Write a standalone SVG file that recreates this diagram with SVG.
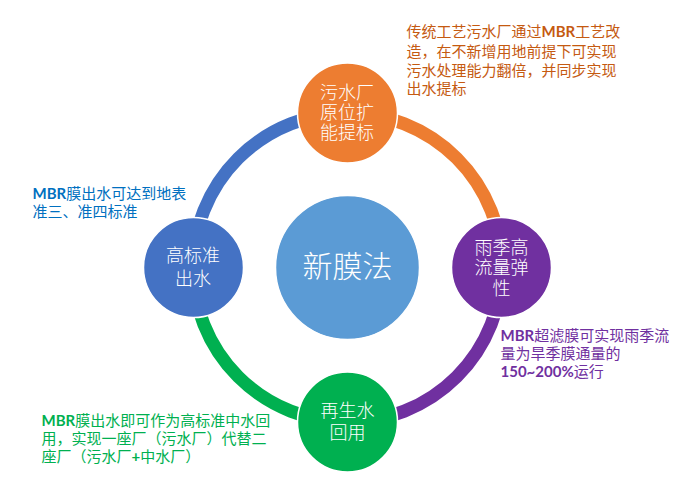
<svg xmlns="http://www.w3.org/2000/svg" width="676" height="483" viewBox="0 0 676 483">
<style>
.arc{fill:none;stroke-width:13}
.node{stroke:#ffffff;stroke-width:1.5}
.nt{font-family:"Noto Sans CJK SC",sans-serif;fill:#ffffff;font-size:18px;text-anchor:middle;font-weight:300}
.ann{font-family:"Lato","Noto Sans CJK SC",sans-serif;font-size:15px}
.b{font-weight:bold}
</style>
<rect width="676" height="483" fill="#ffffff"/>
<g id="connectors">
<path class="arc" stroke="#ED7D31" d="M 347.5 113 A 154.5 154.5 0 0 1 502 267.5"/>
<path class="arc" stroke="#7030A0" d="M 502 267.5 A 154.5 154.5 0 0 1 347.5 422"/>
<path class="arc" stroke="#00B050" d="M 347.5 422 A 154.5 154.5 0 0 1 193 267.5"/>
<path class="arc" stroke="#4472C4" d="M 193 267.5 A 154.5 154.5 0 0 1 347.5 113"/>
</g>
<g id="center">
<circle class="node" cx="347.5" cy="267.5" r="72" fill="#5B9BD5"/>
<text class="nt" x="347.5" y="277" style="font-size:30px">新膜法</text>
</g>
<g id="top">
<circle class="node" cx="347.5" cy="113" r="50" fill="#ED7D31"/>
<text class="nt" x="347" y="99">污水厂</text>
<text class="nt" x="347" y="119">原位扩</text>
<text class="nt" x="347" y="139">能提标</text>
</g>
<g id="right">
<circle class="node" cx="501.5" cy="267.5" r="50" fill="#7030A0"/>
<text class="nt" x="501.5" y="253.5">雨季高</text>
<text class="nt" x="501.5" y="274">流量弹</text>
<text class="nt" x="501.5" y="295">性</text>
</g>
<g id="bottom">
<circle class="node" cx="347.5" cy="422" r="50" fill="#00B050"/>
<text class="nt" x="347.5" y="417">再生水</text>
<text class="nt" x="347.5" y="438.5">回用</text>
</g>
<g id="left">
<circle class="node" cx="193.5" cy="267.5" r="50" fill="#4472C4"/>
<text class="nt" x="193" y="262">高标准</text>
<text class="nt" x="193" y="285">出水</text>
</g>
<g id="note-top" class="ann" fill="#C55A11">
<text x="406.5" y="37"><tspan>传统工艺污水厂通过</tspan><tspan class="b">MBR</tspan><tspan>工艺改</tspan></text>
<text x="406.5" y="56.5">造，在不新增用地前提下可实现</text>
<text x="406.5" y="75.5">污水处理能力翻倍，并同步实现</text>
<text x="406.5" y="94">出水提标</text>
</g>
<g id="note-left" class="ann" fill="#0070C0">
<text x="32.5" y="198.5"><tspan class="b">MBR</tspan><tspan>膜出水可达到地表</tspan></text>
<text x="32.5" y="217">准三、准四标准</text>
</g>
<g id="note-right" class="ann" fill="#7030A0">
<text x="500.5" y="340.5"><tspan class="b">MBR</tspan><tspan>超滤膜可实现雨季流</tspan></text>
<text x="500.5" y="359">量为旱季膜通量的</text>
<text x="500.5" y="377"><tspan class="b">150~200%</tspan><tspan>运行</tspan></text>
</g>
<g id="note-bottom" class="ann" fill="#00B050">
<text x="41.5" y="425.5"><tspan class="b">MBR</tspan><tspan>膜出水即可作为高标准中水回</tspan></text>
<text x="41.5" y="444">用，实现一座厂（污水厂）代替二</text>
<text x="41.5" y="462"><tspan>座厂（污水厂</tspan><tspan class="b">+</tspan><tspan>中水厂）</tspan></text>
</g>
</svg>
